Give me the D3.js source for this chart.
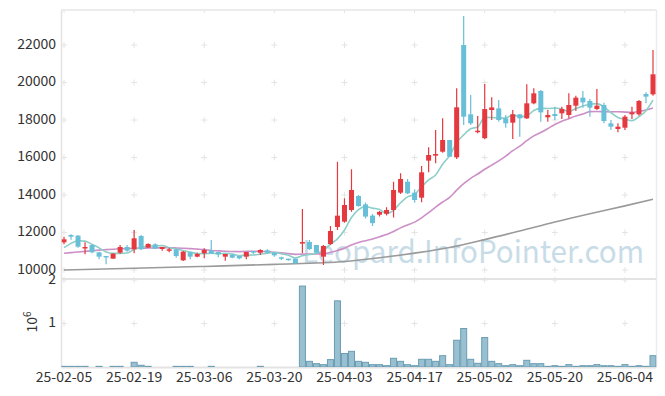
<!DOCTYPE html>
<html>
<head>
<meta charset="utf-8">
<script src="https://cdn.jsdelivr.net/npm/d3@7"></script>
<style>
  html, body { margin: 0; padding: 0; background: #fff; }
  svg { display: block; font-family: "Noto Sans CJK KR", "Noto Sans", sans-serif; }
</style>
</head>
<body>
<div id="chart"></div>
<script>
// trading days shown on the x axis
const DATES = [
  "25-02-05","25-02-06","25-02-07","25-02-10","25-02-11","25-02-12","25-02-13","25-02-14","25-02-17","25-02-18",
  "25-02-19","25-02-20","25-02-21","25-02-24","25-02-25","25-02-26","25-02-27","25-02-28","25-03-04","25-03-05",
  "25-03-06","25-03-07","25-03-10","25-03-11","25-03-12","25-03-13","25-03-14","25-03-17","25-03-18","25-03-19",
  "25-03-20","25-03-21","25-03-24","25-03-25","25-03-26","25-03-27","25-03-28","25-03-31","25-04-01","25-04-02",
  "25-04-03","25-04-04","25-04-07","25-04-08","25-04-09","25-04-10","25-04-11","25-04-14","25-04-15","25-04-16",
  "25-04-17","25-04-18","25-04-21","25-04-22","25-04-23","25-04-24","25-04-25","25-04-28","25-04-29","25-04-30",
  "25-05-02","25-05-07","25-05-08","25-05-09","25-05-12","25-05-13","25-05-14","25-05-15","25-05-16","25-05-19",
  "25-05-20","25-05-21","25-05-22","25-05-23","25-05-26","25-05-27","25-05-28","25-05-29","25-05-30","25-06-02",
  "25-06-04","25-06-05","25-06-09","25-06-10","25-06-11"
];

// daily prices
const OPEN = [
  11476,11867,11831,11191,11333,10942,10747,10604,10924,11227,
  11102,11813,11191,11369,11120,11067,11102,10516,10942,10711,
  10889,11049,10960,10711,10818,10747,10711,11013,10924,11049,
  10924,10676,10604,10604,11460,11493,11333,10711,11386,12293,
  12578,13200,13947,13500,12900,12950,13000,13200,14124,14710,
  14124,13858,15831,16098,16310,16933,16009,22000,18302,17380,
  17030,18533,18620,18089,17858,18302,18089,18889,19547,18142,
  18320,18356,18267,18764,19191,19013,18587,18800,17822,17520,
  17590,18302,18302,19387,19369
];
const HIGH = [
  11778,11900,11867,11476,11369,10978,10747,10889,11333,11333,
  12133,11867,11422,11422,11244,11191,11155,11013,10978,10924,
  11155,11600,10960,10853,10853,10747,10960,11013,11102,11102,
  10960,10711,10604,10604,13253,11600,11333,11333,12347,15778,
  13822,15369,14000,13600,12990,13150,13350,14700,15157,14853,
  14302,15547,16542,17467,18090,16933,19690,23547,19333,18213,
  19920,19210,19067,18267,18533,18302,19902,19690,19600,18533,
  18711,18711,19422,19298,19547,19120,19654,18924,18000,17822,
  18267,18711,19067,19476,21733
];
const LOW = [
  11369,11618,11191,10836,10889,10569,10302,10604,10871,10978,
  10889,11067,11191,11138,11031,10942,10658,10480,10569,10676,
  10622,10853,10676,10498,10622,10569,10569,10853,10800,10853,
  10711,10533,10498,10320,10907,11067,10889,10267,11333,12133,
  12524,13111,13376,12750,12350,12850,12900,12800,14053,14036,
  13590,13610,15210,15690,16257,16044,15920,17733,17733,17290,
  16970,18000,17910,17590,16987,17110,18053,18836,17910,17910,
  18000,18053,18089,18480,18658,18178,18533,17822,17467,17342,
  17467,18053,18230,18889,19298
];
const CLOSE = [
  11636,11778,11244,11227,10942,10711,10676,10871,11227,11031,
  11689,11102,11387,11138,11227,11102,10747,10978,10711,10853,
  11067,10871,10836,10853,10658,10622,10960,10924,11067,10924,
  10782,10604,10569,10356,11490,11120,10924,11280,12080,12898,
  13467,14267,13413,12850,12500,13100,13200,14267,14853,14089,
  13733,15210,16133,16187,16933,16044,18676,18178,17822,17430,
  18584,18670,18000,17822,18302,18089,18889,19422,18409,18267,
  18213,18587,18800,19191,18942,18658,18764,17947,17644,17644,
  18178,18409,19013,19245,20436
];
// volume, millions of shares
const VOLUME = [
  0.015,0.015,0.015,0.015,0,0.015,0,0.015,0.015,0,
  0.108,0.04,0.015,0,0,0,0.015,0.015,0.015,0,
  0,0.015,0,0,0,0,0,0,0.015,0,
  0,0,0,0,1.86,0.13,0.077,0.054,0.17,1.52,
  0.31,0.36,0.13,0.108,0.054,0.054,0.03,0.2,0.13,0.054,
  0.03,0.177,0.177,0.13,0.26,0.054,0.615,0.885,0.177,0.085,
  0.677,0.13,0.077,0.03,0.054,0.03,0.154,0.077,0.077,0.015,
  0.03,0.015,0.054,0.015,0.03,0.03,0.054,0.03,0.03,0.015,
  0.054,0.015,0.03,0.015,0.26
];

// moving average values before enough days are in view
const MA5_HEAD = [11190, 11420, 11560, 11540];
const MA20_HEAD = [
  10890,10925,10960,10995,11030,11060,11085,11110,11130,11145,
  11155,11165,11170,11180,11185,11185,11175,11160,11140
];
// long moving average (gray), read at these day indices
const MA120_IDX = [0, 10, 20, 30, 40, 45, 50, 55, 60, 65, 70, 75, 80, 84];
const MA120 = [10000, 10090, 10190, 10300, 10450, 10650, 10900, 11200, 11620, 12080, 12560, 13000, 13420, 13770];

const PRICE_TICKS = [10000, 12000, 14000, 16000, 18000, 20000, 22000];
const VOL_TICKS = [1, 2];
const DATE_TICK_IDX = [0, 10, 20, 30, 40, 50, 60, 70, 80];

// layout
const width = 665, height = 396;
const left = 61.5, right = 656.5;
const priceTop = 10, priceBottom = 278;
const volTop = 278, volBottom = 367;

const upColor = "#e5383f";
const downColor = "#68bfd8";

const svg = d3.select("#chart").append("svg")
  .attr("width", width)
  .attr("height", height);

const x = d3.scaleBand().domain(DATES).range([60.5, 656.5]).padding(0);
const cx = (i) => x(DATES[i]) + x.bandwidth() / 2;
const y = d3.scaleLinear().domain([9573, 23867]).range([priceBottom, priceTop]);
const yv = d3.scaleLinear().domain([0, 2.045]).range([volBottom, volTop]);

svg.append("defs").append("clipPath").attr("id", "clip-price")
  .append("rect").attr("x", left).attr("y", priceTop).attr("width", right - left).attr("height", priceBottom - priceTop);
svg.select("defs").append("clipPath").attr("id", "clip-vol")
  .append("rect").attr("x", left).attr("y", volTop).attr("width", right - left).attr("height", volBottom - volTop);

// grid crosses
const crossG = svg.append("g").attr("stroke", "#e4e4e4").attr("stroke-width", 1).attr("fill", "none");
const crossPath = (px, py) => `M${px - 3},${py}H${px + 3}M${px},${py - 3}V${py + 3}`;
DATE_TICK_IDX.forEach((i) => {
  PRICE_TICKS.forEach((p) => crossG.append("path").attr("d", crossPath(cx(i), y(p))));
  VOL_TICKS.forEach((v) => crossG.append("path").attr("d", crossPath(cx(i), yv(v))));
  crossG.append("path").attr("d", `M${cx(i)},${priceTop}V${priceTop + 3}`);
});

// frame
const frame = svg.append("g").attr("fill", "none");
frame.append("line").attr("x1", left).attr("x2", right).attr("y1", priceTop).attr("y2", priceTop)
  .attr("stroke", "#e6e6e6").attr("stroke-width", 1.5);
frame.append("line").attr("x1", left).attr("x2", left).attr("y1", priceTop).attr("y2", volBottom)
  .attr("stroke", "#e3e3e3").attr("stroke-width", 1.5);
frame.append("line").attr("x1", right).attr("x2", right).attr("y1", priceTop).attr("y2", volBottom)
  .attr("stroke", "#ececec").attr("stroke-width", 1.5);
frame.append("line").attr("x1", left).attr("x2", right).attr("y1", priceBottom + 1).attr("y2", priceBottom + 1)
  .attr("stroke", "#e3e3e3").attr("stroke-width", 2);
frame.append("line").attr("x1", left).attr("x2", right).attr("y1", volBottom + 0.5).attr("y2", volBottom + 0.5)
  .attr("stroke", "#e3e3e3").attr("stroke-width", 2);

// watermark
svg.append("text")
  .attr("x", 302).attr("y", 263)
  .attr("font-size", 31)
  .attr("textLength", 342)
  .attr("lengthAdjust", "spacingAndGlyphs")
  .attr("fill", "#c8dce7")
  .text("Leopard.InfoPointer.com");

// moving averages
const ma5 = CLOSE.map((c, i) => i < 4 ? MA5_HEAD[i] : d3.mean(CLOSE.slice(i - 4, i + 1)));
const ma20 = CLOSE.map((c, i) => i < 19 ? MA20_HEAD[i] : d3.mean(CLOSE.slice(i - 19, i + 1)));

const lineG = svg.append("g").attr("clip-path", "url(#clip-price)").attr("fill", "none");
const line = d3.line().x((d) => cx(d[0])).y((d) => y(d[1])).curve(d3.curveMonotoneX);
lineG.append("path")
  .attr("d", line(MA120.map((v, k) => [MA120_IDX[k], v])))
  .attr("stroke", "#9a9a9a").attr("stroke-width", 1.6);
lineG.append("path")
  .attr("d", line(ma20.map((v, i) => [i, v])))
  .attr("stroke", "#cd8fc7").attr("stroke-width", 1.6);
lineG.append("path")
  .attr("d", line(ma5.map((v, i) => [i, v])))
  .attr("stroke", "#8dcfc8").attr("stroke-width", 1.6);

// candles
const candleG = svg.append("g").attr("clip-path", "url(#clip-price)");
const candle = candleG.selectAll("g")
  .data(DATES.map((d, i) => i))
  .join("g");
candle.append("line")
  .attr("x1", (i) => cx(i)).attr("x2", (i) => cx(i))
  .attr("y1", (i) => y(HIGH[i])).attr("y2", (i) => y(LOW[i]))
  .attr("stroke", (i) => CLOSE[i] >= OPEN[i] ? upColor : downColor)
  .attr("stroke-width", 1.2);
candle.append("rect")
  .attr("x", (i) => cx(i) - 2.5)
  .attr("width", 5)
  .attr("y", (i) => y(Math.max(OPEN[i], CLOSE[i])))
  .attr("height", (i) => Math.max(1.5, Math.abs(y(OPEN[i]) - y(CLOSE[i]))))
  .attr("fill", (i) => CLOSE[i] >= OPEN[i] ? upColor : downColor);

// volume bars
svg.append("g").attr("clip-path", "url(#clip-vol)")
  .selectAll("rect")
  .data(VOLUME.map((v, i) => ({ v, i })).filter((d) => d.v > 0))
  .join("rect")
  .attr("x", (d) => x(DATES[d.i]) + 0.5)
  .attr("width", x.bandwidth() - 1)
  .attr("y", (d) => yv(d.v))
  .attr("height", (d) => volBottom - yv(d.v))
  .attr("fill", "#98c0d1")
  .attr("stroke", "#6b9db3")
  .attr("stroke-width", 1);

// axis labels
const labelG = svg.append("g").attr("fill", "#333").attr("font-size", 14);
labelG.selectAll(".py")
  .data(PRICE_TICKS)
  .join("text")
  .attr("x", 56).attr("y", (p) => y(p))
  .attr("text-anchor", "end")
  .attr("dominant-baseline", "middle")
  .text((p) => p);
labelG.selectAll(".vy")
  .data(VOL_TICKS)
  .join("text")
  .attr("x", 56).attr("y", (v) => yv(v))
  .attr("text-anchor", "end")
  .attr("dominant-baseline", "middle")
  .text((v) => v);
labelG.selectAll(".dx")
  .data(DATE_TICK_IDX)
  .join("text")
  .attr("x", (i) => cx(i)).attr("y", 382)
  .attr("text-anchor", "middle")
  .text((i) => DATES[i]);

const unit = labelG.append("text")
  .attr("transform", "translate(37,322) rotate(-90)")
  .attr("text-anchor", "middle");
unit.append("tspan").text("10");
unit.append("tspan").attr("dy", -6).attr("font-size", 10).text("6");
</script>
</body>
</html>
